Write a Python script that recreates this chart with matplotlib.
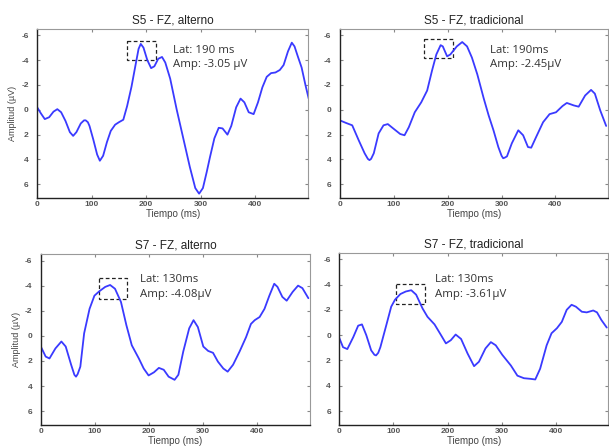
import numpy as np
import matplotlib
matplotlib.use("Agg")
import matplotlib.pyplot as plt
from matplotlib.patches import Rectangle

plt.rcParams['font.family'] = ['Liberation Sans', 'DejaVu Sans']
plt.rcParams['axes.unicode_minus'] = False

# --- data (ms, uV) ---
s5_alt_t = [0, 7, 14, 22, 30, 37, 44, 52, 60, 66, 72, 80, 86, 89, 93, 96, 103, 110, 115, 121, 128,
            135, 143, 150, 158, 165, 173, 180, 186, 190, 195, 202, 209, 215, 222, 229, 235, 244,
            256, 268, 280, 290, 297, 304, 311, 317, 325, 333, 340, 349, 356, 365, 373, 380, 388,
            397, 405, 413, 421, 429, 437, 445, 452, 460, 467, 472, 478, 485, 492, 498]
s5_alt_v = [-0.2, 0.3, 0.75, 0.6, 0.15, -0.05, 0.2, 0.9, 1.8, 2.1, 1.8, 1.1, 0.85, 0.85, 1.0, 1.3,
            2.4, 3.6, 4.1, 3.7, 2.6, 1.7, 1.2, 1.0, 0.8, -0.3, -1.85, -3.5, -4.9, -5.3, -5.0, -4.0,
            -3.35, -3.5, -4.1, -4.25, -3.8, -2.5, 0.0, 2.3, 4.6, 6.3, 6.75, 6.3, 5.0, 3.8, 2.3,
            1.45, 1.5, 2.0, 1.3, -0.2, -0.9, -0.6, 0.2, 0.35, -0.6, -1.8, -2.65, -2.95, -3.0,
            -3.2, -3.6, -4.7, -5.4, -5.1, -4.3, -3.4, -2.0, -0.9]

s5_trad_t = [0, 11, 23, 35, 46, 52, 55, 58, 63, 72, 81, 89, 99, 112, 120, 128, 139, 151, 162,
             171, 179, 187, 191, 199, 205, 217, 227, 236, 245, 255, 267, 276, 285, 294, 300, 303,
             306, 310, 319, 331, 340, 349, 355, 364, 377, 389, 401, 413, 421, 434, 443, 455, 466,
             473, 483, 494]
s5_trad_v = [0.85, 1.05, 1.25, 2.45, 3.5, 3.95, 4.05, 3.95, 3.5, 1.9, 1.25, 1.15, 1.5, 1.95, 2.05,
             1.4, 0.2, -0.6, -1.55, -3.15, -4.45, -5.2, -5.1, -4.3, -4.45, -5.1, -5.45, -5.1,
             -4.2, -2.85, -0.9, 0.45, 1.65, 3.0, 3.7, 3.9, 3.85, 3.75, 2.7, 1.65, 2.05, 3.0, 3.05,
             2.2, 1.0, 0.35, 0.2, -0.3, -0.55, -0.35, -0.25, -1.15, -1.6, -1.3, 0.05, 1.3]

s7_alt_t = [0, 9, 16, 27, 38, 46, 56, 62, 65, 68, 73, 80, 90, 99, 108, 119, 128, 137, 148, 158,
            168, 181, 190, 199, 209, 218, 227, 236, 247, 254, 263, 274, 282, 290, 300, 309, 318,
            327, 337, 345, 355, 367, 379, 388, 395, 404, 413, 422, 431, 437, 446, 454, 465, 475,
            483, 494]
s7_alt_v = [0.85, 1.65, 1.8, 1.0, 0.45, 0.85, 2.3, 3.1, 3.25, 3.05, 2.45, -0.2, -2.15, -3.2,
            -3.55, -3.9, -4.05, -3.75, -2.7, -0.85, 0.75, 1.8, 2.6, 3.15, 2.9, 2.55, 2.7, 3.25,
            3.5, 3.1, 1.25, -0.6, -1.25, -0.7, 0.85, 1.2, 1.35, 2.05, 2.6, 2.85, 2.3, 1.25, 0.1,
            -0.95, -1.25, -1.5, -2.15, -3.2, -4.15, -3.9, -3.1, -2.8, -3.5, -4.0, -3.8, -3.0]

s7_trad_t = [0, 7, 15, 26, 35, 42, 50, 59, 65, 68, 72, 76, 87, 96, 103, 113, 123, 133, 142, 154,
             163, 176, 188, 197, 206, 215, 225, 237, 249, 258, 270, 280, 289, 301, 317, 329, 341,
             353, 362, 371, 383, 392, 402, 411, 420, 429, 437, 448, 457, 469, 476, 484, 494]
s7_trad_v = [0.2, 0.95, 1.1, 0.15, -0.75, -0.85, 0.0, 1.2, 1.55, 1.6, 1.4, 0.95, -0.8, -2.25,
             -2.8, -3.25, -3.45, -3.55, -3.2, -2.1, -1.45, -0.85, 0.0, 0.65, 0.4, -0.05, 0.3,
             1.45, 2.45, 2.1, 1.05, 0.55, 0.8, 1.55, 2.4, 3.2, 3.4, 3.45, 3.5, 2.65, 0.8, -0.15,
             -0.55, -1.05, -2.0, -2.4, -2.25, -1.85, -1.8, -1.95, -1.8, -1.2, -0.6]

titles = ["S5 - FZ, alterno", "S5 - FZ, tradicional", "S7 - FZ, alterno", "S7 - FZ, tradicional"]
lat_text = ["Lat: 190 ms", "Lat: 190ms", "Lat: 130ms", "Lat: 130ms"]
amp_text = ["Amp: -3.05 \u00b5V", "Amp: -2.45\u00b5V", "Amp: -4.08\u00b5V", "Amp: -3.61\u00b5V"]
# dashed marker box around the peak: (t0, t1, v_top, v_bottom)
boxes = [(165, 218, -5.57, -4.03), (156, 209, -5.66, -4.17),
         (107, 160, -4.58, -2.95), (105, 158, -4.06, -2.47)]
text_pos = [(249, -4.8), (278, -4.8), (183, -4.47), (177, -4.38)]

series = [(s5_alt_t, s5_alt_v), (s5_trad_t, s5_trad_v),
          (s7_alt_t, s7_alt_v), (s7_trad_t, s7_trad_v)]

rects = [[0.061, 0.556, 0.445, 0.379], [0.558, 0.556, 0.440, 0.379],
         [0.067, 0.047, 0.442, 0.383], [0.557, 0.047, 0.442, 0.386]]

fig = plt.figure(figsize=(6.09, 4.46), dpi=100)

for i in range(4):
    ax = fig.add_axes(rects[i])
    t, v = series[i]
    ax.plot(t, v, color='#3a3aff', lw=1.3, solid_joinstyle='round', solid_capstyle='round')
    ax.set_xlim(0, 497)
    ax.set_ylim(7.1, -6.5)
    ax.set_xticks([0, 100, 200, 300, 400])
    ax.set_yticks([-6, -4, -2, 0, 2, 4, 6])
    ax.tick_params(direction='in', length=2, width=0.8, labelsize=6, colors='#888888',
                   labelcolor='#555555', top=True, right=True)
    ax.tick_params(axis='x', pad=2)
    ax.tick_params(axis='y', pad=6)
    for lab in ax.get_xticklabels() + ax.get_yticklabels():
        lab.set_fontweight('bold')
    for side in ['left', 'bottom']:
        ax.spines[side].set_color('#222222')
        ax.spines[side].set_linewidth(1.0)
    for side in ['top', 'right']:
        ax.spines[side].set_color('#999999')
        ax.spines[side].set_linewidth(0.8)
    ax.set_title(titles[i], fontsize=8.5, color='#222222', pad=4)
    ax.set_xlabel("Tiempo (ms)", fontsize=7, color='#444444', labelpad=1)
    if i % 2 == 0:
        ax.set_ylabel("Amplitud (\u00b5V)", fontsize=6.5, color='#444444', labelpad=3)

    t0, t1, vt, vb = boxes[i]
    ax.add_patch(Rectangle((t0, vt), t1 - t0, vb - vt, fill=False, ls=(0, (3, 2)),
                           lw=0.9, ec='#222222'))
    tx, ty = text_pos[i]
    ax.text(tx, ty, lat_text[i], fontsize=8.2, color='#333333', va='center',
            family=['Open Sans', 'DejaVu Sans'])
    ax.text(tx, ty + 1.18, amp_text[i], fontsize=8.2, color='#333333', va='center',
            family=['Open Sans', 'DejaVu Sans'])

fig.savefig("out.png", dpi=100)
